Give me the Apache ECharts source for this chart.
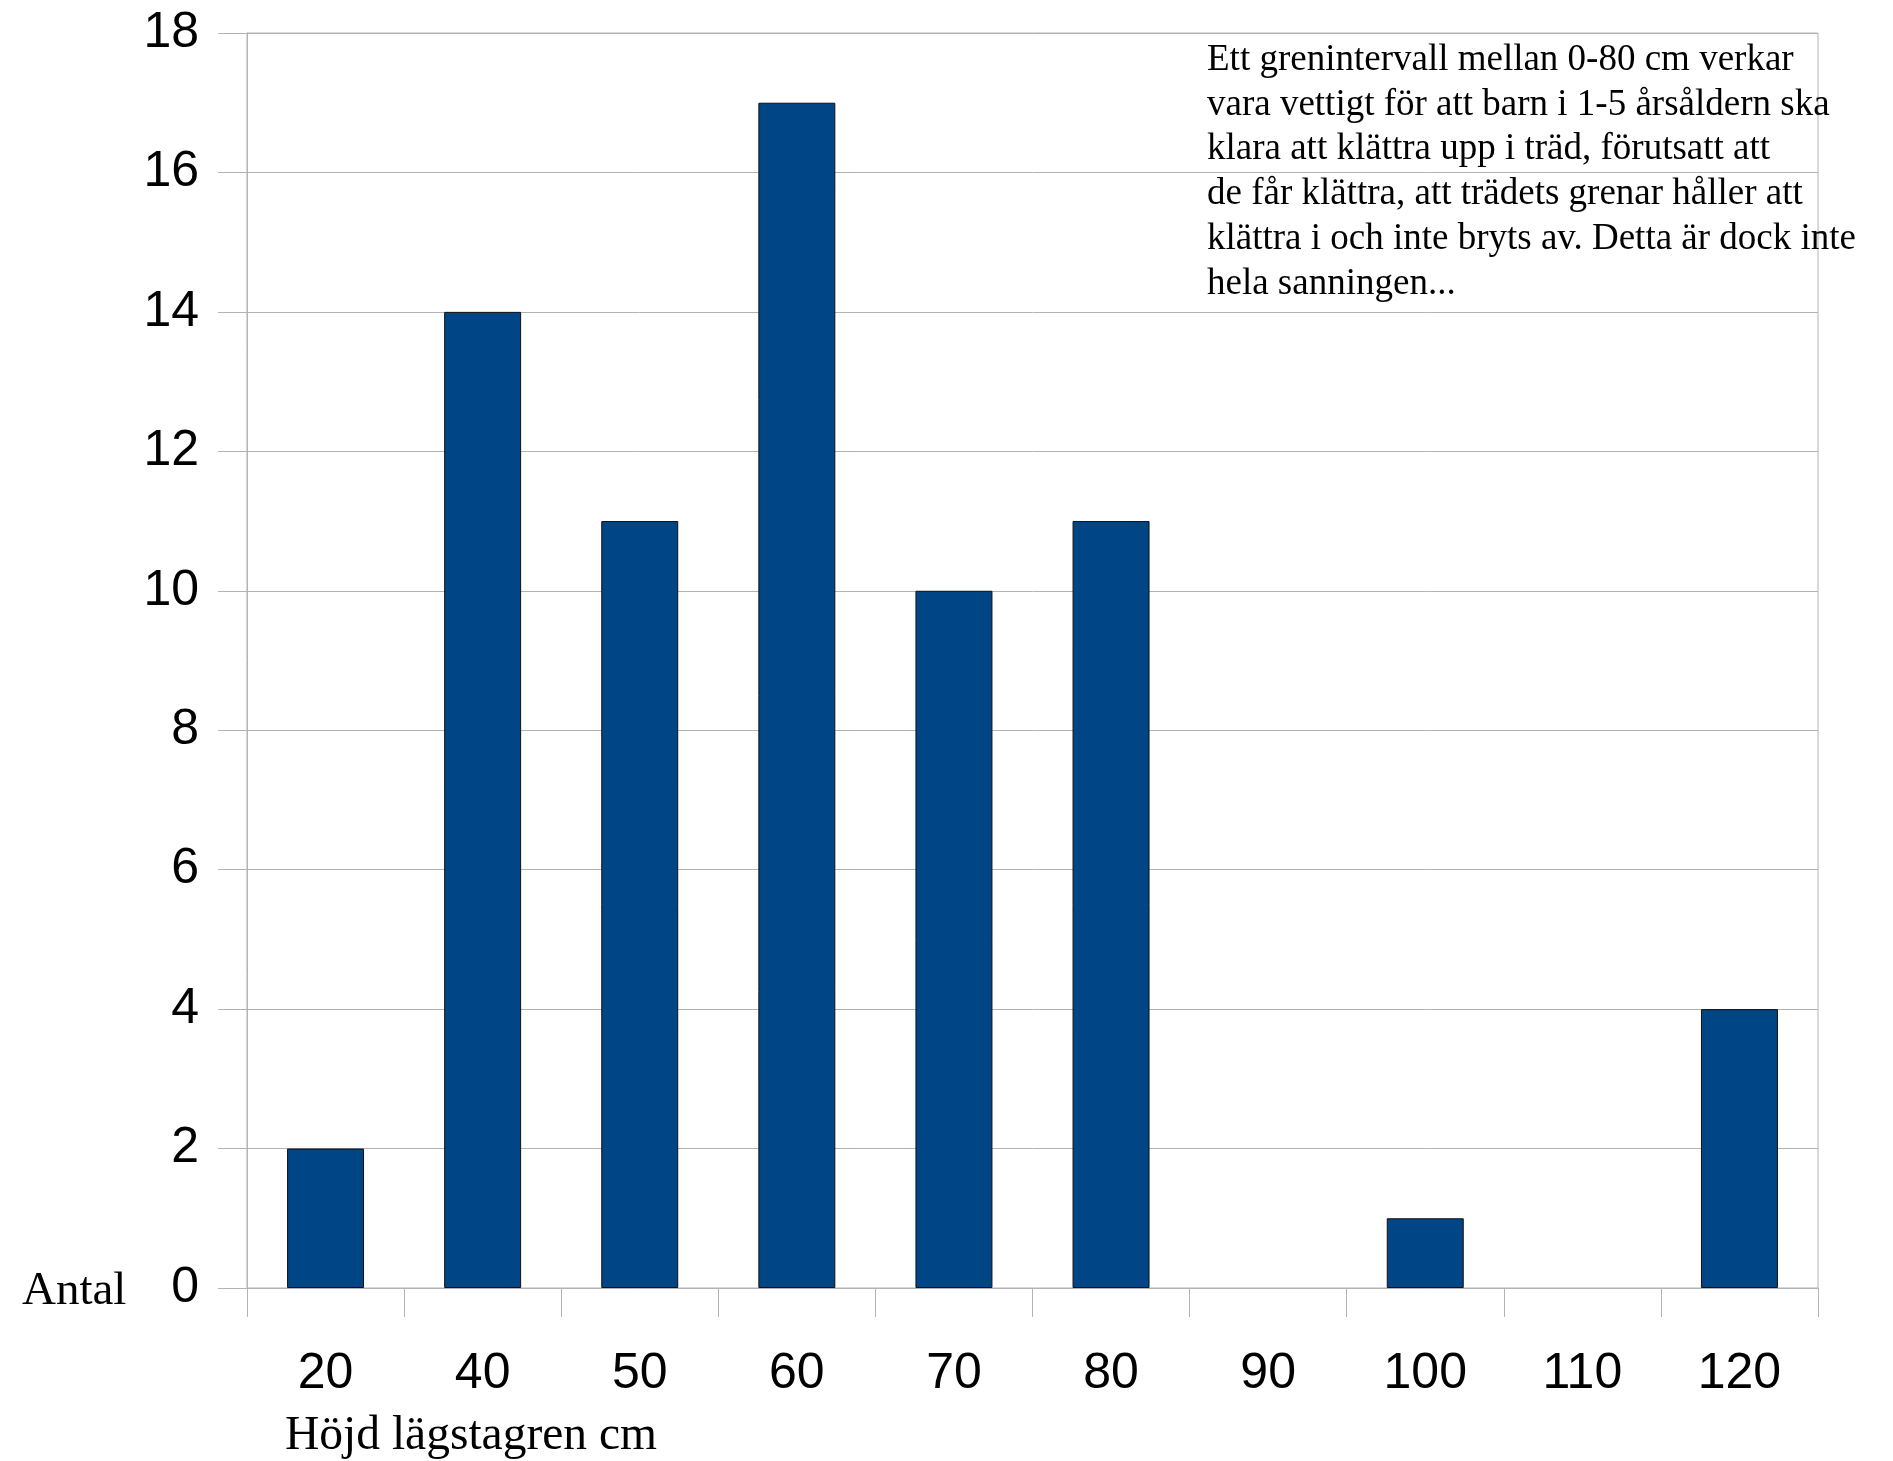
<!DOCTYPE html>
<html>
<head>
<meta charset="utf-8">
<title>Höjd lägstagren</title>
<script src="https://cdn.jsdelivr.net/npm/echarts@6/dist/echarts.min.js"></script>
<style>
  html, body { margin: 0; padding: 0; background: #ffffff; }
  #chart { width: 1893px; height: 1461px; }
</style>
</head>
<body>
<div id="chart"></div>
<script>
// Height of the lowest branch (cm) and number of trees in each class
const heights = ['20', '40', '50', '60', '70', '80', '90', '100', '110', '120'];
const counts = [2, 14, 11, 17, 10, 11, 0, 1, 0, 4];

const yMin = 0;
const yMax = 18;
const yStep = 2;

const xTitle = 'Höjd lägstagren cm';
const yTitle = 'Antal';
const noteLines = [
  'Ett grenintervall mellan 0-80 cm verkar',
  'vara vettigt för att barn i 1-5 årsåldern ska',
  'klara att klättra upp i träd, förutsatt att',
  'de får klättra, att trädets grenar håller att',
  'klättra i och inte bryts av. Detta är dock inte',
  'hela sanningen...'
];

const gridColor = '#b3b3b3';
const barColor = '#004586';
const sans = '"Liberation Sans", Arial, sans-serif';
const serif = '"Liberation Serif", "Times New Roman", serif';

// Empty classes get no outline, so nothing is drawn on the axis for them
const barData = counts.map(v => ({
  value: v,
  itemStyle: v === 0 ? { borderWidth: 0 } : {}
}));

const chart = echarts.init(document.getElementById('chart'), null, { renderer: 'canvas' });

chart.setOption({
  animation: false,
  backgroundColor: '#ffffff',
  grid: {
    left: 247,
    right: 75,
    top: 33,
    bottom: 173,
    show: true,
    borderColor: gridColor,
    borderWidth: 1,
    backgroundColor: 'transparent'
  },
  xAxis: {
    type: 'category',
    data: heights,
    boundaryGap: true,
    axisLine: { show: true, lineStyle: { color: gridColor, width: 1 } },
    axisTick: { show: true, length: 29, alignWithLabel: false, lineStyle: { color: gridColor, width: 1 } },
    axisLabel: {
      margin: 61,
      color: '#000000',
      fontSize: 50,
      fontFamily: sans,
      interval: 0
    },
    splitLine: { show: false }
  },
  yAxis: {
    type: 'value',
    min: yMin,
    max: yMax,
    interval: yStep,
    axisLine: { show: true, lineStyle: { color: gridColor, width: 1 } },
    axisTick: { show: true, length: 29, lineStyle: { color: gridColor, width: 1 } },
    axisLabel: {
      margin: 48,
      color: '#000000',
      fontSize: 50,
      fontFamily: sans
    },
    splitLine: { show: true, lineStyle: { color: gridColor, width: 1 } }
  },
  series: [{
    type: 'bar',
    data: barData,
    barWidth: '49%',
    itemStyle: {
      color: barColor,
      borderColor: '#111111',
      borderWidth: 1
    },
    emphasis: { disabled: true }
  }],
  graphic: [
    {
      type: 'text',
      x: 22,
      y: 1292,
      style: {
        text: yTitle,
        font: '47px ' + serif,
        fill: '#000000',
        textAlign: 'left',
        textVerticalAlign: 'middle'
      }
    },
    {
      type: 'text',
      x: 285,
      y: 1437,
      style: {
        text: xTitle,
        font: '47.5px ' + serif,
        fill: '#000000',
        textAlign: 'left',
        textVerticalAlign: 'middle'
      }
    },
    {
      type: 'text',
      x: 1207,
      y: 38,
      style: {
        text: noteLines.join('\n'),
        font: '37px ' + serif,
        lineHeight: 44.7,
        fill: '#000000',
        textAlign: 'left',
        textVerticalAlign: 'top'
      }
    }
  ]
});
</script>
</body>
</html>
